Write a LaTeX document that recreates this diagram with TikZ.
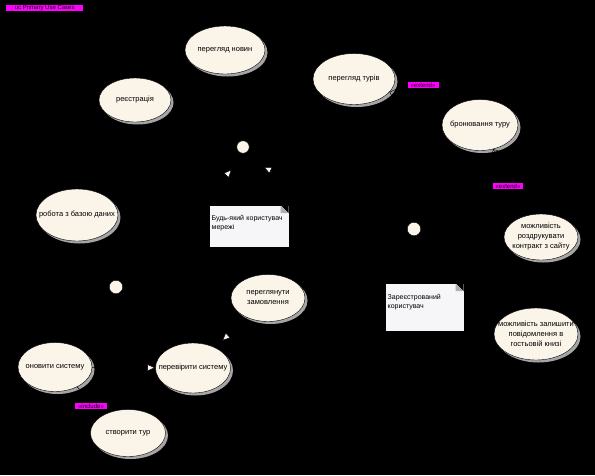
\documentclass[tikz,border=0pt]{standalone}
\usepackage{fontspec}
\setmainfont{Liberation Sans}
\usetikzlibrary{arrows.meta,shapes.geometric,shadows}
\definecolor{ucfill}{RGB}{251,244,233}
\definecolor{ucshade}{RGB}{165,165,165}
\definecolor{notefill}{RGB}{246,246,249}
\definecolor{foldgray}{RGB}{175,175,178}
\definecolor{tagpink}{RGB}{255,0,255}
\newcommand\ucfont{\fontsize{7.5}{10}\selectfont}
\newcommand\notefont{\fontsize{7}{9.5}\selectfont}
\newcommand\tagfont{\fontsize{6}{6.5}\selectfont}
\tikzset{
  usecase/.style={ellipse, fill=ucfill, draw=black, line width=0.4pt,
    align=center, font=\ucfont, inner xsep=-22pt, inner ysep=-10pt,
    drop shadow={shadow xshift=2.5pt, shadow yshift=-2.5pt, fill=ucshade, opacity=1}},
  actorhead/.style={circle, fill=ucfill, draw=black, line width=0.4pt,
    minimum size=12.5pt, inner sep=0pt},
  notebox/.style={rectangle, anchor=north west, fill=notefill, draw=black,
    line width=0.4pt, align=left, font=\notefont, inner xsep=2.5pt, inner ysep=2pt,
    path picture={
      \fill[black] ([xshift=-8pt]path picture bounding box.north east)
        -- (path picture bounding box.north east)
        -- ([yshift=-8pt]path picture bounding box.north east) -- cycle;
      \fill[foldgray] ([xshift=-8pt]path picture bounding box.north east)
        -- ([xshift=-8pt,yshift=-8pt]path picture bounding box.north east)
        -- ([yshift=-8pt]path picture bounding box.north east) -- cycle;}},
  tag/.style={rectangle, fill=tagpink, font=\tagfont, inner sep=0.5pt,
    minimum height=6.5pt},
  gen/.style={draw=black, line width=0.5pt,
    -{Triangle[length=8pt,width=7pt,fill=ucfill]}},
  dep/.style={draw=black, dashed, line width=0.5pt, -{Straight Barb[length=5pt]}},
}

\begin{document}
\begin{tikzpicture}[x=1pt,y=-1pt]
\fill[black] (0,0) rectangle (595,475);
\useasboundingbox (0,0) rectangle (595,475);

% frame title
\node[tag, anchor=west, minimum width=77pt] (title) at (6,8) {uc Primary Use Cases};

% use cases, guest side
\node[usecase, minimum width=72pt, minimum height=44pt] (reg)   at (135,100) {реєстрація};
\node[usecase, minimum width=80pt, minimum height=48pt] (news)  at (225,50)  {перегляд новин};
\node[usecase, minimum width=82pt, minimum height=51pt] (tours) at (354,79)  {перегляд турів};
\node[usecase, minimum width=76pt, minimum height=51pt] (book)  at (480,125) {бронювання туру};

% use cases, member side
\node[usecase, minimum width=74pt, minimum height=46pt] (print) at (541,237)
  {можливість\\роздрукувати\\контракт з сайту};
\node[usecase, minimum width=84pt, minimum height=52pt] (guestbook) at (536,334)
  {можливість залишити\\повідомлення в\\гостьовій книзі};

% use cases, admin side
\node[usecase, minimum width=82pt, minimum height=52pt] (db)     at (77,215)  {робота з базою даних};
\node[usecase, minimum width=74pt, minimum height=47pt] (orders) at (268,298) {переглянути\\замовлення};
\node[usecase, minimum width=74pt, minimum height=49pt] (update) at (55,367)  {оновити систему};
\node[usecase, minimum width=75pt, minimum height=50pt] (check)  at (193,368) {перевірити систему};
\node[usecase, minimum width=75pt, minimum height=47pt] (create) at (128,433) {створити тур};

% actors
\node[actorhead] (guest)  at (243,147) {};
\node[actorhead, minimum size=13.5pt] (member) at (414,229) {};
\node[actorhead, minimum size=13.5pt] (admin)  at (116,287) {};
\coordinate (guestb)  at ([yshift=-10pt]guest.center);
\coordinate (memberb) at ([yshift=-10pt]member.center);
\coordinate (adminb)  at ([yshift=-10pt]admin.center);

% notes
\node[notebox, text width=74.5pt, text height=13pt, text depth=25pt] (guestnote) at (209,205)
  {Будь-який користувач\\мережі};
\node[notebox, text width=73.5pt, text height=14pt, text depth=30pt] (membernote) at (385,283)
  {Зареєстрований\\користувач};

% generalizations
\draw[gen, shorten >=17pt] (adminb) -- (guestb);
\draw[gen, shorten >=23pt] (memberb) -- (guestb);
\draw[gen] (update) -- (check);
\draw[gen, shorten >=10pt] (orders) -- (check);

% extend / include
\draw[dep] (book) -- (tours);
\draw[dep] (print) -- (book);
\draw[dep] (update) -- (create);
\node[tag, minimum width=31pt] (ext1) at (423,85)  {«extend»};
\node[tag, minimum width=30pt] (ext2) at (508,186) {«extend»};
\node[tag, minimum width=32pt] (inc1) at (91,406)  {«include»};

\end{tikzpicture}
\end{document}
